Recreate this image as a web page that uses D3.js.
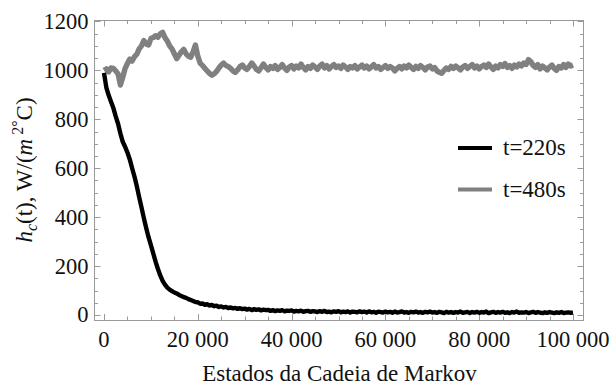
<!DOCTYPE html>
<html>
<head>
<meta charset="utf-8">
<script src="https://cdn.jsdelivr.net/npm/d3@7"></script>
<style>
  html, body { margin: 0; padding: 0; background: #fff; }
  svg text { font-family: "Liberation Serif", "Times New Roman", Times, serif; }
</style>
</head>
<body>
<svg id="chart" width="614" height="387"></svg>
<script>
// Markov chain traces of the heat transfer coefficient, one value every 500 states
const stepStates = 500;

const seriesNames = ["t=220s", "t=480s"];
const seriesColors = ["#000000", "#808080"];

const hc220 = [
  990, 930, 898, 872, 846, 812, 782, 742, 708, 688,
  664, 636, 600, 566, 526, 482, 440, 396, 356, 318,
  286, 252, 218, 188, 162, 140, 124, 112, 104, 98,
  92, 88, 82, 78, 73, 70, 65, 61, 57, 53,
  52, 46, 47, 42, 44, 39, 41, 36, 38, 33,
  35, 31, 33, 28, 31, 27, 29, 25, 28, 24,
  26, 22, 25, 20, 24, 21, 23, 19, 22, 20,
  21, 17, 20, 16, 19, 17, 20, 15, 18, 17,
  19, 14, 17, 15, 18, 13, 16, 17, 13, 16,
  15, 12, 16, 13, 17, 12, 14, 11, 15, 13,
  16, 11, 14, 12, 15, 10, 14, 13, 11, 15,
  12, 14, 10, 15, 11, 13, 9, 14, 12, 10,
  14, 11, 13, 9, 14, 10, 12, 15, 10, 12,
  9, 13, 11, 14, 10, 12, 9, 13, 11, 14,
  10, 12, 9, 13, 11, 8, 13, 10, 12, 9,
  12, 10, 14, 9, 11, 13, 8, 12, 10, 13,
  9, 12, 10, 14, 8, 11, 13, 9, 12, 10,
  13, 9, 11, 8, 12, 10, 14, 9, 11, 10,
  12, 8, 11, 13, 9, 12, 10, 8, 11, 9,
  12, 10, 8, 11, 9, 12, 8, 10, 11, 9,
  10
];

const hc480 = [
  1000, 1006, 994, 1010, 1008, 998, 986, 940, 972, 1008,
  1028, 1046, 1038, 1056, 1066, 1088, 1100, 1122, 1108, 1104,
  1130, 1134, 1142, 1136, 1150, 1156, 1134, 1120, 1100, 1088,
  1068, 1048, 1062, 1076, 1086, 1068, 1058, 1054, 1076, 1104,
  1058, 1030, 1020, 1008, 998, 988, 980, 986, 996, 1010,
  1022, 1030, 1020, 1016, 1008, 998, 992, 1002, 1016, 1022,
  1010, 1004, 1016, 1030, 1018, 1004, 998, 1012, 1026, 1012,
  1002, 1016, 1008, 1020, 1004, 1012, 1024, 1010, 1000, 1014,
  1020, 1006, 1018, 1010, 1026, 1012, 1002, 1016, 1008, 1022,
  1014, 1004, 1018, 1026, 1010, 1020, 1006, 1016, 1024, 1012,
  1018, 1008, 1022, 1014, 1004, 1016, 1010, 1020, 1006, 1014,
  1022, 1010, 1018, 1006, 1014, 1024, 1010, 1016, 1004, 1012,
  1020, 1008, 1016, 1010, 998, 1008, 1016, 1006, 1018, 1010,
  1022, 1012, 1004, 1016, 1008, 1020, 1012, 1002, 1014, 1018,
  1006, 1012, 998, 992, 988, 1000, 1010, 1004, 1016, 1008,
  1018, 1010, 1002, 1014, 1020, 1008, 1016, 1024, 1010, 1018,
  1006, 1016, 1022, 1012, 1026, 1014, 1004, 1018, 1010, 1024,
  1016, 1028, 1012, 1020, 1008, 1022, 1014, 1026, 1018, 1030,
  1024, 1044, 1036, 1020, 1012, 1024, 1006, 1018, 1010, 1002,
  1014, 1022, 1008, 1000, 1016, 1010, 1024, 1012, 1026, 1018,
  1022
];

const xTicks = [0, 20000, 40000, 60000, 80000, 100000];
const yTicks = [0, 200, 400, 600, 800, 1000, 1200];

const serif = "'Liberation Serif', 'Times New Roman', Times, serif";
const svg = d3.select("#chart");
const frame = { left: 94, right: 583, top: 20, bottom: 320 };

const x = d3.scaleLinear().domain([-2130, 102130]).range([frame.left, frame.right]);
const y = d3.scaleLinear().domain([-20.4, 1206]).range([frame.bottom, frame.top]);

const fmtX = d3.formatLocale({ decimal: ".", thousands: " ", grouping: [3], currency: ["", ""] }).format(",d");
const fmtY = d3.format("d");

const frameColor = "#9a9a9a";

// frame
svg.append("rect")
  .attr("x", frame.left + 0.5).attr("y", frame.top + 0.5)
  .attr("width", frame.right - frame.left).attr("height", frame.bottom - frame.top)
  .attr("fill", "none").attr("stroke", frameColor).attr("stroke-width", 1);

// ticks on all four sides, pointing inward
const xMinor = d3.range(0, 100001, 5000);
const yMinor = d3.range(0, 1201, 50);
const tickG = svg.append("g").attr("stroke", frameColor).attr("stroke-width", 1);
xMinor.forEach(v => {
  const len = xTicks.includes(v) ? 6 : 3.5;
  const px = Math.round(x(v)) + 0.5;
  tickG.append("line").attr("x1", px).attr("x2", px).attr("y1", frame.bottom).attr("y2", frame.bottom - len);
  tickG.append("line").attr("x1", px).attr("x2", px).attr("y1", frame.top + 0.5).attr("y2", frame.top + 0.5 + len);
});
yMinor.forEach(v => {
  const len = yTicks.includes(v) ? 6 : 3.5;
  const py = Math.round(y(v)) + 0.5;
  tickG.append("line").attr("y1", py).attr("y2", py).attr("x1", frame.left + 0.5).attr("x2", frame.left + 0.5 + len);
  tickG.append("line").attr("y1", py).attr("y2", py).attr("x1", frame.right + 0.5).attr("x2", frame.right + 0.5 - len);
});

// tick labels
svg.append("g").selectAll("text").data(xTicks).join("text")
  .attr("x", d => x(d)).attr("y", 347)
  .attr("text-anchor", "middle").attr("font-family", serif).attr("font-size", 22.5).attr("fill", "#111")
  .text(d => fmtX(d));

svg.append("g").selectAll("text").data(yTicks).join("text")
  .attr("x", 88.5).attr("y", d => y(d)).attr("dy", "0.33em")
  .attr("text-anchor", "end").attr("font-family", serif).attr("font-size", 22.5).attr("fill", "#111")
  .text(d => fmtY(d));

// axis titles
svg.append("text")
  .attr("x", (frame.left + frame.right) / 2 + 1).attr("y", 381)
  .attr("text-anchor", "middle").attr("font-family", serif).attr("font-size", 23).attr("fill", "#111")
  .text("Estados da Cadeia de Markov");

const yTitle = svg.append("text")
  .attr("transform", `translate(32,${(frame.top + frame.bottom) / 2}) rotate(-90)`)
  .attr("text-anchor", "middle").attr("font-family", serif).attr("font-size", 23).attr("fill", "#111");
yTitle.append("tspan").attr("font-style", "italic").text("h");
yTitle.append("tspan").attr("font-style", "italic").attr("font-size", 16).attr("dy", 5).text("c");
yTitle.append("tspan").attr("dy", -5).text("(t), W/(");
yTitle.append("tspan").attr("font-style", "italic").text("m");
yTitle.append("tspan").attr("font-size", 16).attr("dy", -9).text("\u00a02");
yTitle.append("tspan").attr("font-size", 16).text("\u00b0");
yTitle.append("tspan").attr("dy", 9).text("C)");

// traces
const line = d3.line()
  .x((d, i) => x(i * stepStates))
  .y(d => y(d))
  .curve(d3.curveLinear);

const plot = svg.append("g");
plot.append("path").datum(hc480)
  .attr("d", line).attr("fill", "none")
  .attr("stroke", seriesColors[1]).attr("stroke-width", 5.4)
  .attr("stroke-linejoin", "round");
plot.append("path").datum(hc220)
  .attr("d", line).attr("fill", "none")
  .attr("stroke", seriesColors[0]).attr("stroke-width", 4.4)
  .attr("stroke-linejoin", "round");

// legend
const legend = svg.append("g");
seriesNames.forEach((name, i) => {
  const ly = 148 + i * 41.5;
  legend.append("line")
    .attr("x1", 458).attr("x2", 492).attr("y1", ly).attr("y2", ly)
    .attr("stroke", seriesColors[i]).attr("stroke-width", 4);
  legend.append("text")
    .attr("x", 503).attr("y", ly).attr("dy", "0.32em")
    .attr("font-family", serif).attr("font-size", 23).attr("fill", "#111")
    .text(name);
});
</script>
</body>
</html>
